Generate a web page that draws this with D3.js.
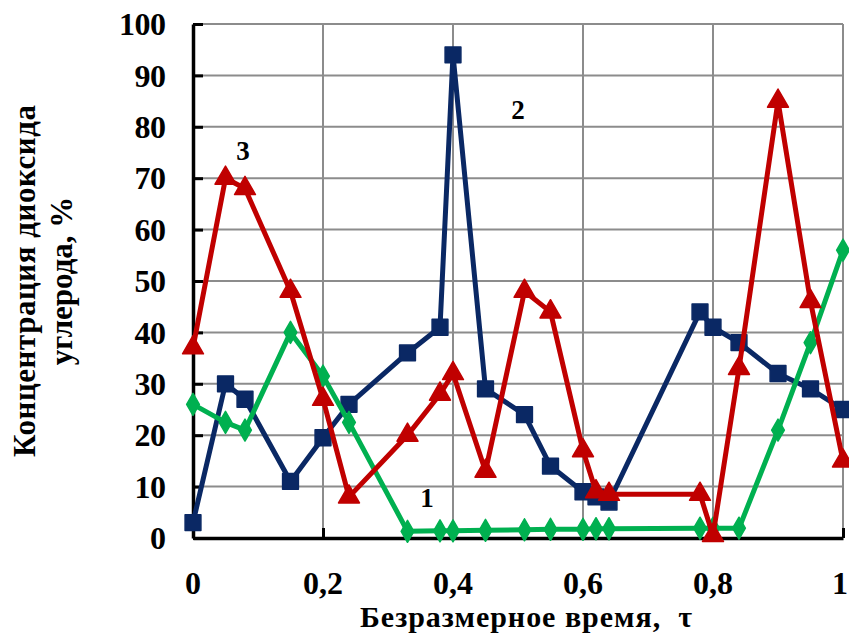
<!DOCTYPE html>
<html>
<head>
<meta charset="utf-8">
<script src="https://cdn.jsdelivr.net/npm/d3@7"></script>
<style>
  body { margin: 0; background: #fff; }
  text { font-family: "Liberation Serif", "Times New Roman", serif; font-weight: bold; }
</style>
</head>
<body>
<svg id="chart" width="849" height="636"></svg>
<script>
// dimensionless time points (shared by all three curves)
const tau = [0, 0.05, 0.08, 0.15, 0.2, 0.24, 0.33, 0.38, 0.4, 0.45, 0.51, 0.55, 0.6, 0.62, 0.64, 0.78, 0.8, 0.84, 0.9, 0.95, 1];

// curve 1 (green, diamonds)
const series1 = [26, 22.5, 21, 40, 31.5, 22.5, 1.3, 1.4, 1.4, 1.5, 1.6, 1.7, 1.7, 1.8, 1.8, 1.9, 1.9, 1.9, 21, 38, 56];
// curve 2 (navy, squares)
const series2 = [3, 30, 27, 11, 19.5, 26, 36, 41, 94, 29, 24, 14, 9, 8, 7, 44, 41, 38, 32, 29, 25];
// curve 3 (red, triangles)
const series3 = [37, 70, 68, 48, 27, 8, 20, 28, 32, 13, 48, 44, 17, 9, 8.5, 8.5, 0.5, 33, 85, 46, 15];

const xTicks = [0, 0.2, 0.4, 0.6, 0.8, 1];
const yTicks = [0, 10, 20, 30, 40, 50, 60, 70, 80, 90, 100];

const curveLabels = [
  { text: "1", tau: 0.36, value: 6 },
  { text: "2", tau: 0.5, value: 81.5 },
  { text: "3", tau: 0.077, value: 73.5 }
];

const width = 849;
const height = 636;
const margins = { left: 193, right: 6, top: 24, bottom: 98 };

const svg = d3.select("#chart");

const x = d3.scaleLinear()
  .domain([0, 1])
  .range([margins.left, width - margins.right]);

const y = d3.scaleLinear()
  .domain([0, 100])
  .range([height - margins.bottom, margins.top]);

const fmt = (d) => d === 0 || d === 1 ? String(d) : String(d).replace(".", ",");

// grid
const grid = svg.append("g").attr("id", "grid");
grid.selectAll("line.h")
  .data(yTicks.slice(1))
  .join("line")
  .attr("class", "h")
  .attr("x1", x(0)).attr("x2", x(1))
  .attr("y1", (d) => y(d)).attr("y2", (d) => y(d))
  .attr("stroke", "#8c8c8c")
  .attr("stroke-width", 2);
grid.selectAll("line.v")
  .data(xTicks.slice(1))
  .join("line")
  .attr("class", "v")
  .attr("x1", (d) => x(d)).attr("x2", (d) => x(d))
  .attr("y1", y(0)).attr("y2", y(100))
  .attr("stroke", "#8c8c8c")
  .attr("stroke-width", 2);

// axes, ticks pointing inward
const xAxisNode = svg.append("g")
  .attr("transform", `translate(0, ${y(0)})`)
  .call(d3.axisTop(x).tickValues(xTicks).tickSize(10).tickSizeOuter(0).tickFormat(""));
const yAxisNode = svg.append("g")
  .attr("transform", `translate(${x(0)}, 0)`)
  .call(d3.axisRight(y).tickValues(yTicks).tickSize(10).tickSizeOuter(0).tickFormat(""));

[xAxisNode, yAxisNode].forEach((node) => {
  node.select(".domain").attr("stroke", "#000").attr("stroke-width", 3.5);
  node.selectAll(".tick line").attr("stroke", "#000").attr("stroke-width", 3);
});

// tick labels
svg.append("g")
  .selectAll("text")
  .data(yTicks)
  .join("text")
  .attr("x", x(0) - 27)
  .attr("y", (d) => y(d))
  .attr("dy", "0.35em")
  .attr("text-anchor", "end")
  .attr("font-size", 32)
  .attr("textLength", (d) => String(d).length * 15.7)
  .text((d) => d);

svg.append("g")
  .selectAll("text")
  .data(xTicks)
  .join("text")
  .attr("x", (d) => d === 1 ? x(d) - 3 : x(d))
  .attr("y", y(0) + 56)
  .attr("text-anchor", "middle")
  .attr("font-size", 32)
  .text(fmt);

// axis titles
svg.append("text")
  .attr("x", 526)
  .attr("y", 627)
  .attr("text-anchor", "middle")
  .attr("font-size", 30)
  .attr("textLength", 332)
  .style("white-space", "pre")
  .text("Безразмерное время,  τ");

const yTitle = svg.append("text")
  .attr("transform", `translate(35, 281) rotate(-90)`)
  .attr("text-anchor", "middle")
  .attr("font-size", 31);
yTitle.append("tspan").attr("x", 0).attr("y", 0).attr("textLength", 352).text("Концентрация диоксида");
yTitle.append("tspan").attr("x", 0).attr("y", 37).text("углерода, %");

// curves
const line = d3.line()
  .x((d) => x(d.t))
  .y((d) => y(d.v));

const seriesList = [
  { values: series2, color: "#0a2864", marker: d3.symbolSquare, size: 250 },
  { values: series1, color: "#00b050", marker: d3.symbolDiamond, size: 140 },
  { values: series3, color: "#c00000", marker: d3.symbolTriangle, size: 190 }
];

seriesList.forEach((s) => {
  const pts = tau.map((t, i) => ({ t: t, v: s.values[i] }));
  const g = svg.append("g");
  g.append("path")
    .datum(pts)
    .attr("d", line)
    .attr("fill", "none")
    .attr("stroke", s.color)
    .attr("stroke-width", 5)
    .attr("stroke-linejoin", "round");
  g.selectAll("path.m")
    .data(pts)
    .join("path")
    .attr("class", "m")
    .attr("transform", (d) => `translate(${x(d.t)}, ${y(d.v)})`)
    .attr("d", d3.symbol().type(s.marker).size(s.size))
    .attr("fill", s.color)
    .attr("stroke", s.color)
    .attr("stroke-width", 1.5)
    .attr("stroke-linejoin", "round");
});

// curve numbers
svg.append("g")
  .selectAll("text")
  .data(curveLabels)
  .join("text")
  .attr("x", (d) => x(d.tau))
  .attr("y", (d) => y(d.value))
  .attr("text-anchor", "middle")
  .attr("font-size", 27)
  .text((d) => d.text);
</script>
</body>
</html>
